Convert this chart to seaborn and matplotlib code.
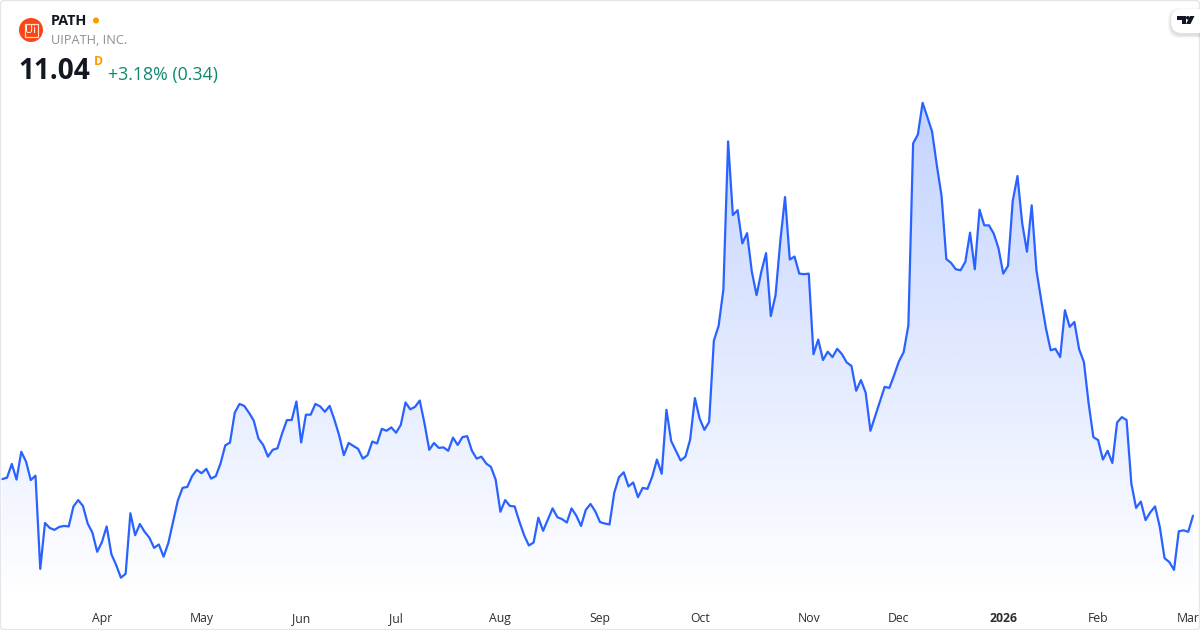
import numpy as np
import pandas as pd
import matplotlib
matplotlib.use("Agg")
import matplotlib.pyplot as plt
from matplotlib.patches import Circle, FancyBboxPatch, Polygon, Rectangle
import seaborn as sns

# Daily closes (USD)
closes_mar_jun = [
    11.79, 11.82, 12.10, 11.78, 12.35, 12.15, 11.77, 11.86, 9.95, 10.89, 10.79, 10.75, 10.81, 10.83, 10.82, 11.23,
    11.36, 11.24, 10.88, 10.69, 10.30, 10.50, 10.82, 10.25, 10.03, 9.77, 9.85, 11.09, 10.64, 10.87, 10.71, 10.59,
    10.38, 10.45, 10.20, 10.48, 10.92, 11.35, 11.61, 11.63, 11.85, 11.98, 11.91, 12.00, 11.80, 11.85, 12.11, 12.48,
    12.54, 13.15, 13.33, 13.29, 13.15, 12.99, 12.62, 12.49, 12.25, 12.39, 12.42, 12.73, 13.00, 13.00, 13.38,
]
closes_jun_sep = [
    12.54, 13.11, 13.11, 13.33, 13.28, 13.17, 13.29, 13.01, 12.69, 12.28, 12.53, 12.47, 12.41, 12.21, 12.28, 12.56,
    12.52, 12.82, 12.78, 12.85, 12.74, 12.90, 13.36, 13.22, 13.27, 13.40, 12.93, 12.39, 12.53, 12.43, 12.44, 12.37,
    12.64, 12.49, 12.65, 12.67, 12.37, 12.21, 12.25, 12.11, 12.04, 11.78, 11.12, 11.36, 11.24, 11.23, 10.92, 10.64,
    10.43, 10.49, 11.00, 10.73, 10.96, 11.19, 11.01, 10.97, 10.90, 11.19, 11.04, 10.83, 11.16, 11.28, 11.13, 10.91,
]
closes_sep_oct = [
    10.88, 10.86, 11.51, 11.83, 11.93, 11.64, 11.72, 11.42, 11.61, 11.59, 11.84, 12.19, 11.90, 13.21, 12.57, 12.37,
    12.17, 12.25, 12.60, 13.45, 13.03, 12.80, 12.96,
]
closes_oct_dec = [
    14.63, 14.93, 15.67, 18.71, 17.20, 17.30, 16.62, 16.83, 16.04, 15.56, 16.04, 16.42, 15.13, 15.56, 16.66, 17.57,
    16.29, 16.35, 16.00, 15.99, 16.00, 14.35, 14.65, 14.23, 14.40, 14.29, 14.46, 14.35, 14.18, 14.11, 13.60, 13.82,
    13.56, 12.78, 13.08, 13.38, 13.68, 13.66, 13.92, 14.20, 14.39,
]
closes_dec_feb = [
    14.94, 18.67, 18.85, 19.50, 19.21, 18.91, 18.22, 17.59, 16.30, 16.22, 16.09, 16.07, 16.24, 16.84, 16.09, 17.31,
    16.99, 16.99, 16.82, 16.52, 16.00, 16.16, 17.49, 18.00, 17.03, 16.45, 17.40, 16.07, 15.46, 14.88, 14.43, 14.46,
    14.29, 15.25, 14.91, 15.01, 14.45, 14.19, 13.34,
]
closes_feb_mar = [
    12.65, 12.59, 12.19, 12.37, 12.12, 12.95, 13.06, 13.00, 11.70, 11.20, 11.33, 10.95, 11.11, 11.23, 10.81, 10.17,
    10.09, 9.93, 10.72, 10.74, 10.71, 11.04,
]
month_labels = ["Apr", "May", "Jun", "Jul", "Aug", "Sep", "Oct", "Nov", "Dec", "2026", "Feb", "Mar"]
month_sessions = [21, 42, 63, 83, 105, 126, 147, 170, 189, 211, 231, 250]

ticker = "PATH"
company = "UIPATH, INC."
last_price = "11.04"
interval = "D"
change_text = "+3.18% (0.34)"

closes = closes_mar_jun + closes_jun_sep + closes_sep_oct + closes_oct_dec + closes_dec_feb + closes_feb_mar
df = pd.DataFrame({"session": np.arange(len(closes)), "close": closes})

sns.set_theme(style="white")
plt.rcParams["font.family"] = ["Open Sans", "DejaVu Sans"]

W, H = 1200, 630
fig = plt.figure(figsize=(W / 100, H / 100), dpi=100, facecolor="white")

# Plot area: pixel rows 0..600, full width
ax = fig.add_axes([0, 30 / H, 1, 600 / H])
BLUE = "#2962ff"
n = len(closes)
step = (1193.0 - 2.3) / (n - 1)
ax.set_xlim(-2.3 / step, (W - 2.3) / step)
px_per_usd = 48.8
ax.set_ylim(11.04 - (600 - 515.7) / px_per_usd, 11.04 + 515.7 / px_per_usd)

# Vertical gradient clipped to the area below the line
poly = ax.fill_between(df["session"], df["close"], ax.get_ylim()[0], color="none", lw=0)
grad = np.zeros((256, 1, 4))
grad[..., :3] = matplotlib.colors.to_rgb(BLUE)
ymax_price = max(closes)
ymin, ymax = ax.get_ylim()
grad[:, 0, 3] = np.linspace(0.28, 0.0, 256)
im = ax.imshow(grad, aspect="auto", origin="upper", interpolation="bilinear",
               extent=[ax.get_xlim()[0], ax.get_xlim()[1], ymin, ymax_price], zorder=1)
ax.set_xlim(-2.3 / step, (W - 2.3) / step)
ax.set_ylim(ymin, ymax)
im.set_clip_path(poly.get_paths()[0], transform=ax.transData)

sns.lineplot(data=df, x="session", y="close", ax=ax, color=BLUE, lw=1.6, estimator=None, zorder=3,
             solid_joinstyle="round")

ax.set_xlabel("")
ax.set_ylabel("")
ax.set_yticks([])
ax.set_xticks(month_sessions)
ax.set_xticklabels(month_labels, fontsize=8.8, color="#2e2e2e")
for lab in ax.get_xticklabels():
    if lab.get_text() == "2026":
        lab.set_fontweight("bold")
ax.tick_params(axis="x", length=0, pad=8.5)
sns.despine(ax=ax, left=True, bottom=True, top=True, right=True)
ax.patch.set_alpha(0)

# Overlay in pixel coordinates: card border and header
ov = fig.add_axes([0, 0, 1, 1], zorder=5)
ov.set_xlim(0, W)
ov.set_ylim(H, 0)
ov.axis("off")
ov.add_patch(FancyBboxPatch((0.5, 0.5), W - 1, H - 1, boxstyle="round,pad=0,rounding_size=4",
                            fc="none", ec="#e4e6ec", lw=1.0))

ov.add_patch(Circle((31, 30), 12, fc="#fa4616", ec="none"))
ov.add_patch(Rectangle((24.5, 23.5), 13, 13, fc="none", ec="#ffd9cc", lw=0.9))
ov.text(31, 30.3, "Ui", color="white", fontsize=8, ha="center", va="center")

ov.text(51, 21, ticker, fontsize=10.4, fontweight="bold", color="#131722", ha="left", va="center")
ov.add_patch(Circle((96, 20.5), 3, fc="#ff9800", ec="none"))
ov.text(51, 41, company, fontsize=9.2, color="#8f8f8f", ha="left", va="center")
ov.text(18.5, 71.5, last_price, fontsize=20.2, fontweight="bold", color="#131722", ha="left", va="center")
ov.text(93.5, 61.5, interval, fontsize=8.8, fontweight="bold", color="#ff9800", ha="left", va="center")
ov.text(108, 75, change_text, fontsize=12.75, color="#0b8a6f", ha="left", va="center")

# Chart-maker badge, top right
for off, a in ((3, 0.03), (2, 0.04), (1, 0.05)):
    ov.add_patch(FancyBboxPatch((1171 - off, 9 - off + 2), 40 + 2 * off, 24 + 2 * off,
                                boxstyle="round,pad=0,rounding_size=11", fc="black", ec="none", alpha=a, zorder=6))
ov.add_patch(FancyBboxPatch((1171, 9), 40, 24, boxstyle="round,pad=0,rounding_size=11",
                            fc="white", ec="none", zorder=7))
ov.add_patch(Polygon([(1177, 16), (1186, 16), (1186, 24), (1181.5, 24), (1181.5, 19.5), (1177, 19.5)],
                     fc="#131722", ec="none", zorder=8))
ov.add_patch(Circle((1187.8, 17.8), 1.8, fc="#131722", ec="none", zorder=8))
ov.add_patch(Polygon([(1190, 16), (1194.5, 16), (1190.5, 24), (1186, 24)], fc="#131722", ec="none", zorder=8))

fig.savefig("out.png", dpi=100, facecolor="white")
